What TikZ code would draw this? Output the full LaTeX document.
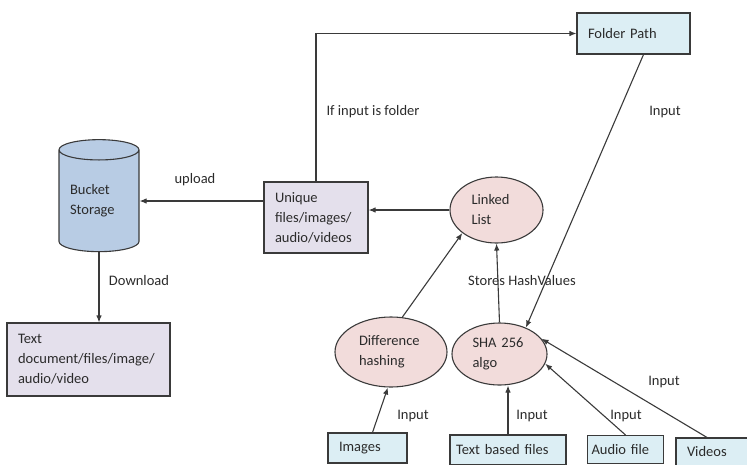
\documentclass[tikz,border=0pt]{standalone}
\usepackage{fontspec}
\setmainfont{Carlito}
\usetikzlibrary{shapes.geometric,arrows.meta}

\definecolor{inkgray}{HTML}{2B2B2B}
\definecolor{linegray}{HTML}{3A3A3A}
\definecolor{paleblue}{HTML}{DCEEF4}
\definecolor{lavender}{HTML}{E4E0EC}
\definecolor{rosy}{HTML}{F2DCDB}
\definecolor{bucketblue}{HTML}{B8CCE4}

\begin{document}
\begin{tikzpicture}[x=1pt, y=-1pt,
  every node/.style={font=\fontsize{14.5}{20}\selectfont, text=inkgray},
  box/.style={draw=linegray, line width=1.1pt, rectangle, inner xsep=11pt, align=left},
  bluebox/.style={box, fill=paleblue},
  purplebox/.style={box, fill=lavender},
  blob/.style={draw=linegray, line width=1.1pt, ellipse, fill=rosy, inner sep=0pt, align=left},
  arr/.style={-{Latex[length=7pt,width=5.5pt]}, line width=1.1pt, linegray}]

\useasboundingbox (0,0) rectangle (747,464);

% storage side
\node (bucket) at (99,201) [draw=linegray, line width=1.1pt, cylinder, shape border rotate=90, aspect=0.35,
  fill=bucketblue, minimum width=80pt, minimum height=112pt, inner sep=0pt,
  text width=58pt, align=left] {Bucket\\Storage};
\node (textdoc) at (88.5,359.5) [purplebox, text width=141pt, minimum height=73pt] {Text\\document/files/image/\\audio/video};
\node (unique) at (316,217.5) [purplebox, text width=82pt, minimum height=71pt] {Unique\\files/images/\\audio/videos};

% hashing part
\node (folder) at (633.5,33.5) [bluebox, text width=91pt, minimum height=41pt] {Folder Path};
\node (linked) at (496.5,210) [blob, minimum width=93pt, minimum height=66pt, text width=50pt] {Linked\\List};
\node (diff) at (391,352) [blob, minimum width=112pt, minimum height=70pt, text width=64pt] {Difference\\hashing};
\node (sha) at (499.5,354) [blob, minimum width=95pt, minimum height=62pt, text width=54pt] {SHA 256\\algo};

% inputs
\node (images) at (367.5,448) [bluebox, text width=57pt, minimum height=30pt] {Images};
\node (textfiles) at (508,450) [bluebox, text width=104pt, minimum height=30pt, inner xsep=6pt] {Text based files};
\node (audio) at (625.5,449.5) [bluebox, text width=68pt, minimum height=28pt, inner xsep=4pt] {Audio file};
\node (videos) at (717,452) [bluebox, text width=60pt, minimum height=28pt] {Videos};

% connectors
\draw [arr] (unique.north) |- (folder.west);
\draw [arr] (bucket.east -| unique.west) -- (bucket.east);
\draw [arr] (bucket.south) -- (bucket.south |- textdoc.north);
\draw [arr] (linked.west) -- (linked.west -| unique.east);
\draw [arr] ([xshift=10pt]folder.south) -- (sha.45);
\draw [arr] (sha.north) -- (linked.south);
\draw [arr] (diff.72) -- (linked.214);
\draw [arr] ([xshift=5pt]images.north) -- (diff.265);
\draw [arr] (textfiles.north) -- (textfiles.north |- sha.south);
\draw [arr] (audio.north) -- (sha.-12);
\draw [arr] ([xshift=-10pt]videos.north) -- (sha.20);

% labels
\node (lfolder) at (373,112) {If input is folder};
\node (lin1) at (665,112) {Input};
\node (lup) at (195,180) {upload};
\node (ldown) at (139,281) {Download};
\node (lstore) at (522,281) {Stores HashValues};
\node (lin2) at (413,416) {Input};
\node (lin3) at (532,416) {Input};
\node (lin4) at (626,416) {Input};
\node (lin5) at (664,382) {Input};

\end{tikzpicture}
\end{document}
